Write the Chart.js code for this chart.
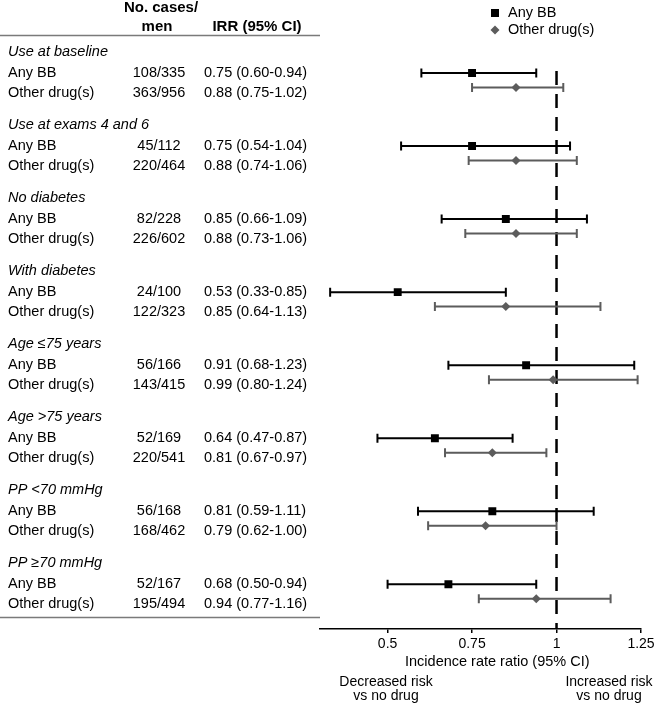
<!DOCTYPE html>
<html>
<head>
<meta charset="utf-8">
<script src="https://cdn.jsdelivr.net/npm/chart.js@4/dist/chart.umd.min.js"></script>
<style>
  html, body { margin: 0; padding: 0; background: #fff; }
</style>
</head>
<body>
<canvas id="chartForest" width="654" height="703"></canvas>
<script>
/* ---- data ---- */
const groups     = ['Use at baseline', 'Use at exams 4 and 6', 'No diabetes', 'With diabetes',
                    'Age \u226475 years', 'Age >75 years', 'PP <70 mmHg', 'PP \u226570 mmHg'];
const bbCases    = ['108/335', '45/112', '82/228', '24/100', '56/166', '52/169', '56/168', '52/167'];
const otherCases = ['363/956', '220/464', '226/602', '122/323', '143/415', '220/541', '168/462', '195/494'];
const bbIrr      = [0.75, 0.75, 0.85, 0.53, 0.91, 0.64, 0.81, 0.68];
const bbLow      = [0.60, 0.54, 0.66, 0.33, 0.68, 0.47, 0.59, 0.50];
const bbHigh     = [0.94, 1.04, 1.09, 0.85, 1.23, 0.87, 1.11, 0.94];
const otherIrr   = [0.88, 0.88, 0.88, 0.85, 0.99, 0.81, 0.79, 0.94];
const otherLow   = [0.75, 0.74, 0.73, 0.64, 0.80, 0.67, 0.62, 0.77];
const otherHigh  = [1.02, 1.06, 1.06, 1.13, 1.24, 0.97, 1.00, 1.16];
const xTicks     = [0.5, 0.75, 1, 1.25];

/* ---- layout (row offsets in group units) ---- */
const FONT = "'Liberation Sans', Arial, sans-serif";
const GRAY = '#5c5c5c';
const OTHER_BAR_OFF = 0.198;
const HEADER_OFF = -0.286;
const OTHER_TEXT_OFF = 0.275;
const CAP = 4.5;

const fmt = (a, b, c) => a.toFixed(2) + ' (' + b.toFixed(2) + '-' + c.toFixed(2) + ')';

// dashed line at 1 + the CI whiskers
const errorBars = {
  id: 'errorBars',
  beforeDatasetsDraw(chart) {
    const { ctx, chartArea, scales: { x, y } } = chart;
    ctx.save();
    ctx.strokeStyle = '#000';
    ctx.lineWidth = 2.5;
    ctx.setLineDash([14, 9]);
    ctx.beginPath();
    ctx.moveTo(x.getPixelForValue(1), y.getPixelForValue(0) - 2);
    ctx.lineTo(x.getPixelForValue(1), chartArea.bottom);
    ctx.stroke();
    ctx.setLineDash([]);

    chart.data.datasets.forEach(ds => {
      ctx.strokeStyle = ds.borderColor;
      ctx.lineWidth = 2;
      ds.data.forEach((pt, i) => {
        const py = y.getPixelForValue(pt.y);
        const x0 = x.getPixelForValue(ds.low[i]);
        const x1 = x.getPixelForValue(ds.high[i]);
        ctx.beginPath();
        ctx.moveTo(x0, py); ctx.lineTo(x1, py);
        ctx.moveTo(x0, py - CAP); ctx.lineTo(x0, py + CAP);
        ctx.moveTo(x1, py - CAP); ctx.lineTo(x1, py + CAP);
        ctx.stroke();
      });
    });
    ctx.restore();
  }
};

// table on the left, legend, axis title and notes under the axis
const tableText = {
  id: 'tableText',
  afterDraw(chart) {
    const { ctx, chartArea, scales: { y } } = chart;
    ctx.save();
    ctx.fillStyle = '#000';
    ctx.textBaseline = 'middle';

    // header
    ctx.font = 'bold 15px ' + FONT;
    ctx.textAlign = 'center';
    ctx.fillText('No. cases/', 161, 8);
    ctx.fillText('men', 157, 27);
    ctx.fillText('IRR (95% CI)', 257, 27);

    ctx.strokeStyle = '#7a7a7a';
    ctx.lineWidth = 1.5;
    ctx.beginPath();
    ctx.moveTo(0, 35.5); ctx.lineTo(chartArea.left, 35.5);
    ctx.moveTo(0, 617.5); ctx.lineTo(chartArea.left, 617.5);
    ctx.stroke();

    groups.forEach((g, i) => {
      const yh = y.getPixelForValue(i + HEADER_OFF);
      const yb = y.getPixelForValue(i);
      const yo = y.getPixelForValue(i + OTHER_TEXT_OFF);
      ctx.textAlign = 'left';
      ctx.font = 'italic 14.5px ' + FONT;
      ctx.fillText(g, 8, yh);
      ctx.font = '14.5px ' + FONT;
      ctx.fillText('Any BB', 8, yb);
      ctx.fillText('Other drug(s)', 8, yo);
      ctx.textAlign = 'center';
      ctx.fillText(bbCases[i], 159, yb);
      ctx.fillText(otherCases[i], 159, yo);
      ctx.textAlign = 'left';
      ctx.fillText(fmt(bbIrr[i], bbLow[i], bbHigh[i]), 204, yb);
      ctx.fillText(fmt(otherIrr[i], otherLow[i], otherHigh[i]), 204, yo);
    });

    // legend
    ctx.font = '14.5px ' + FONT;
    ctx.textAlign = 'left';
    ctx.fillStyle = '#000';
    ctx.fillRect(491, 9, 8, 8);
    ctx.fillText('Any BB', 508, 13);
    ctx.fillStyle = GRAY;
    ctx.beginPath();
    ctx.moveTo(495, 25.5); ctx.lineTo(499.5, 30); ctx.lineTo(495, 34.5); ctx.lineTo(490.5, 30);
    ctx.closePath(); ctx.fill();
    ctx.fillStyle = '#000';
    ctx.fillText('Other drug(s)', 508, 30);

    // axis title + notes
    ctx.font = '14.5px ' + FONT;
    ctx.textAlign = 'left';
    ctx.fillText('Incidence rate ratio (95% CI)', 405, 662);
    ctx.font = '14px ' + FONT;
    ctx.textAlign = 'center';
    ctx.fillText('Decreased risk', 386, 682);
    ctx.fillText('vs no drug', 386, 696);
    ctx.fillText('Increased risk', 609, 682);
    ctx.fillText('vs no drug', 609, 696);
    ctx.restore();
  }
};

new Chart(document.getElementById('chartForest'), {
  type: 'scatter',
  data: {
    datasets: [{
      label: 'Any BB',
      data: bbIrr.map((v, i) => ({ x: v, y: i })),
      low: bbLow, high: bbHigh,
      pointStyle: 'rect', pointRadius: 5.6,
      backgroundColor: '#000', borderColor: '#000', borderWidth: 0
    }, {
      label: 'Other drug(s)',
      data: otherIrr.map((v, i) => ({ x: v, y: i + OTHER_BAR_OFF })),
      low: otherLow, high: otherHigh,
      pointStyle: 'rectRot', pointRadius: 4.5,
      backgroundColor: GRAY, borderColor: GRAY, borderWidth: 0
    }]
  },
  options: {
    responsive: false,
    devicePixelRatio: 1,
    animation: false,
    layout: { padding: { left: 320, right: 13, top: 0, bottom: 0 } },
    plugins: { legend: { display: false }, tooltip: { enabled: false } },
    scales: {
      x: {
        type: 'linear', min: 0.3, max: 1.25,
        afterBuildTicks: s => { s.ticks = xTicks.map(v => ({ value: v })); },
        afterFit: s => { s.height = 74; s.paddingLeft = 0; s.paddingRight = 0; },
        grid: { display: true, drawOnChartArea: false, drawTicks: true, tickLength: 4,
                color: '#000', lineWidth: 1.5 },
        border: { display: true, color: '#000', width: 1.5 },
        ticks: { color: '#000', padding: 3, autoSkip: false, maxRotation: 0,
                 font: { family: FONT, size: 14 }, callback: v => String(v) }
      },
      y: {
        type: 'linear', display: false, reverse: true,
        min: -0.9227, max: 7.612
      }
    }
  },
  plugins: [errorBars, tableText]
});
</script>
</body>
</html>
